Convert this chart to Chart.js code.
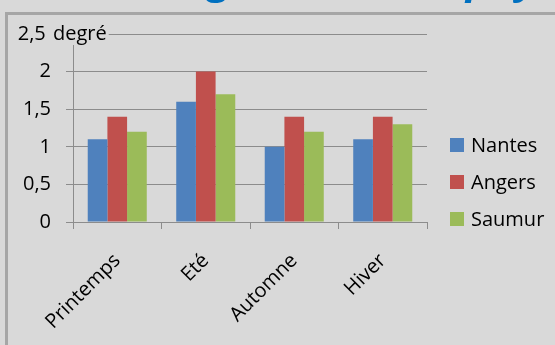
<!DOCTYPE html>
<html>
<head>
<meta charset="utf-8">
<script src="https://cdn.jsdelivr.net/npm/chart.js@4"></script>
<style>
  body { margin: 0; background: #d9d9d9; }
  canvas { display: block; }
</style>
</head>
<body>
<canvas id="chart" width="555" height="345"></canvas>
<script>
// Données : écart moyen en degrés par saison et par ville
const saisons = ['Printemps', 'Eté', 'Automne', 'Hiver'];
const nantes = [1.1, 1.6, 1.0, 1.1];
const angers = [1.4, 2.0, 1.4, 1.4];
const saumur = [1.2, 1.7, 1.2, 1.3];
const villes = ['Nantes', 'Angers', 'Saumur'];
const couleurs = ['#4f81bd', '#c0504d', '#9bbb59'];
const uniteAxe = 'degré';
const titre = 'Les écarts de degrés selon le pays';

const police = "'Open Sans', sans-serif";
const gris = '#8c8c8c';

// Cadre, titre (coupé en haut) et légende
const decor = {
    id: 'decor',
    beforeDraw(chart) {
        const ctx = chart.ctx;
        ctx.save();
        ctx.fillStyle = '#d9d9d9';
        ctx.fillRect(0, 0, chart.width, chart.height);
        // titre : seule la partie basse est visible
        ctx.font = "italic bold 42px 'Open Sans', sans-serif";
        ctx.fillStyle = '#0070c0';
        ctx.textBaseline = 'alphabetic';
        const avant = ctx.measureText('Les écarts de de').width;
        ctx.fillText(titre, 208 - avant, -7);
        // cadre
        ctx.fillStyle = '#a6a6a6';
        ctx.fillRect(5, 12, 3, chart.height - 12);
        ctx.fillRect(5, 12, chart.width - 5, 3);
        ctx.restore();
    },
    afterDraw(chart) {
        const ctx = chart.ctx;
        const y = chart.scales.y;
        ctx.save();
        ctx.font = '20px ' + police;
        ctx.textBaseline = 'middle';
        // unité à côté de la dernière graduation
        const yTop = y.getPixelForValue(2.5);
        const w = ctx.measureText(uniteAxe).width;
        ctx.fillStyle = '#d9d9d9';
        ctx.fillRect(51, yTop - 11, w + 4, 22);
        ctx.fillStyle = '#000';
        ctx.fillText(uniteAxe, 53, yTop);
        // légende
        chart.data.datasets.forEach((ds, i) => {
            const cy = 145 + i * 37;
            ctx.fillStyle = ds.backgroundColor;
            ctx.fillRect(450, cy - 7, 14, 14);
            ctx.fillStyle = '#000';
            ctx.fillText(ds.label, 471, cy + 1);
        });
        ctx.restore();
    }
};

const series = [nantes, angers, saumur];

new Chart(document.getElementById('chart'), {
    type: 'bar',
    data: {
        labels: saisons,
        datasets: series.map((valeurs, i) => ({
            label: villes[i],
            data: valeurs,
            backgroundColor: couleurs[i],
            borderWidth: 0,
            categoryPercentage: 0.667,
            barPercentage: 1
        }))
    },
    options: {
        responsive: false,
        animation: false,
        layout: { padding: { top: 34, right: 128, left: 0, bottom: 0 } },
        plugins: {
            legend: { display: false },
            tooltip: { enabled: false }
        },
        scales: {
            x: {
                afterFit(scale) { scale.height = 123; },
                grid: {
                    drawOnChartArea: false,
                    drawTicks: true,
                    tickLength: 7,
                    color: gris,
                    offset: true
                },
                border: { display: true, color: gris },
                ticks: {
                    color: '#000',
                    font: { family: police, size: 20 },
                    minRotation: 45,
                    maxRotation: 45,
                    padding: 20,
                    autoSkip: false
                }
            },
            y: {
                min: 0,
                max: 2.5,
                afterFit(scale) { scale.width = 73; },
                grid: {
                    color: gris,
                    tickLength: 7
                },
                border: { display: true, color: gris },
                ticks: {
                    stepSize: 0.5,
                    color: '#000',
                    padding: 15,
                    font: { family: police, size: 20 },
                    callback: v => String(v).replace('.', ',') + (v === 2.5 ? ' ' : '')
                }
            }
        }
    },
    plugins: [decor]
});
</script>
</body>
</html>
